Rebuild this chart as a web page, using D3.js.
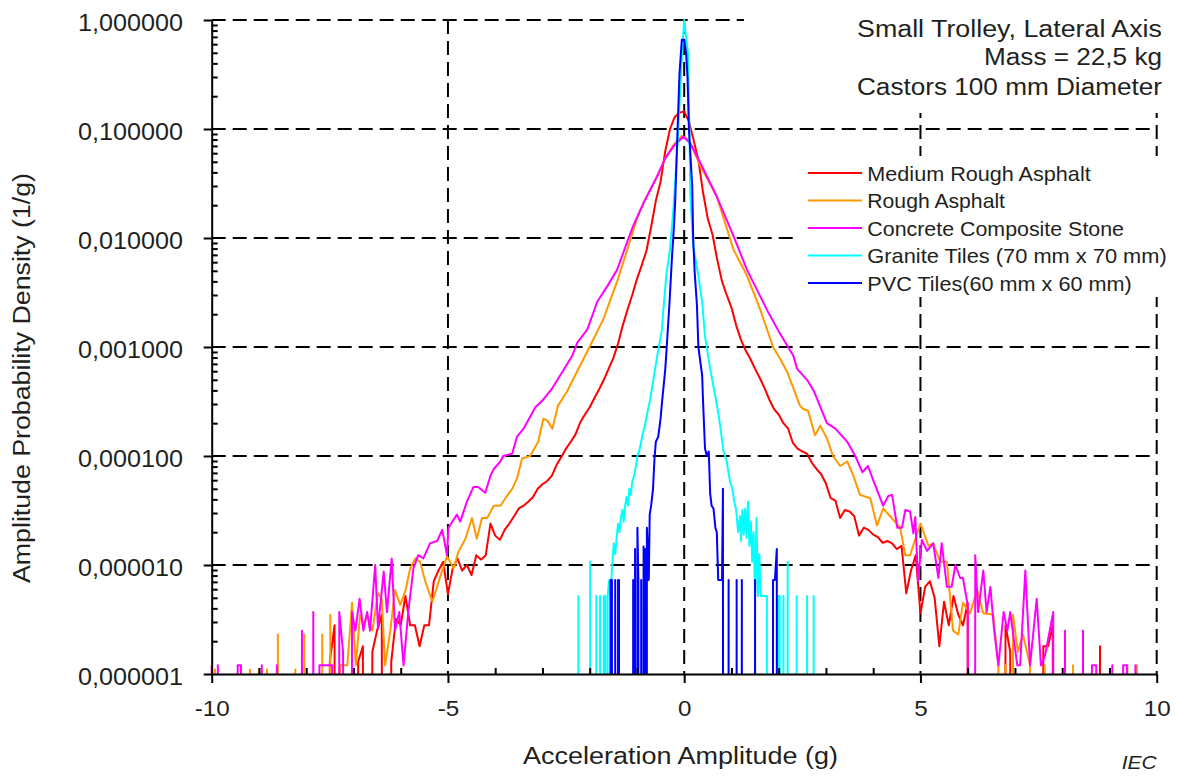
<!DOCTYPE html>
<html><head><meta charset="utf-8">
<script src="https://cdn.jsdelivr.net/npm/d3@7"></script>
<style>
body{margin:0;background:#fff}
svg{display:block}
text{font-family:"Liberation Sans",Arial,sans-serif;fill:#231f20}
</style></head><body>
<svg id="c" width="1178" height="776"></svg>
<script>
// ---------------- DATA ----------------
const xTickValues = [-10, -5, 0, 5, 10];
const yTickValues = [1e-6, 1e-5, 1e-4, 1e-3, 1e-2, 1e-1, 1];
const titleLines = ["Small Trolley, Lateral  Axis", "Mass = 22,5 kg", "Castors  100  mm  Diameter"];
const seriesNames = ["Medium Rough Asphalt", "Rough Asphalt", "Concrete Composite Stone", "Granite Tiles (70 mm x 70 mm)", "PVC Tiles(60 mm x 60 mm)"];
const xTitle = "Acceleration Amplitude  (g)";
const yTitle = "Amplitude Probability Density  (1/g)";

// [acceleration (g), probability density (1/g)]; 0 = empty bin
const mediumRoughAsphalt = [
[-7.6,0],[-7.5,1.3e-6],[-7.4,2.8e-6],[-7.3,0],[-7.0,0],[-6.9,1.3e-6],[-6.8,1.8e-6],[-6.7,0],[-6.6,1.6e-6],[-6.5,2.5e-6],
[-6.4,3.5e-6],[-6.3,0],[-6.2,1.3e-6],[-6.1,3.2e-6],[-6.0,2.8e-6],[-5.9,5.2e-6],[-5.8,2.8e-6],[-5.7,2.8e-6],[-5.6,1.8e-6],
[-5.5,2.8e-6],[-5.4,2.8e-6],[-5.3,7.1e-6],[-5.2,8.9e-6],[-5.1,1.07e-5],[-5.0,5.4e-6],[-4.9,9.3e-6],[-4.8,1.15e-5],
[-4.7,8.9e-6],[-4.6,1.0e-5],[-4.5,8.1e-6],[-4.4,1.23e-5],[-4.3,1.12e-5],[-4.2,1.23e-5],[-4.1,2.4e-5],[-4.0,1.86e-5],
[-3.9,1.7e-5],[-3.8,2.1e-5],[-3.7,2.4e-5],[-3.6,2.8e-5],[-3.5,3.3e-5],[-3.4,3.5e-5],[-3.3,3.8e-5],[-3.2,4.2e-5],
[-3.1,5.0e-5],[-3.0,5.5e-5],[-2.9,5.9e-5],[-2.8,6.6e-5],[-2.7,8.3e-5],[-2.6,9.8e-5],[-2.5,1.17e-4],[-2.4,1.35e-4],
[-2.3,1.58e-4],[-2.2,2.04e-4],[-2.1,2.4e-4],[-2.0,2.8e-4],[-1.9,3.4e-4],[-1.8,4.1e-4],[-1.7,5.0e-4],[-1.6,6.3e-4],
[-1.5,7.9e-4],[-1.4,1.07e-3],[-1.3,1.58e-3],[-1.2,2.2e-3],[-1.1,3.0e-3],[-1.0,4.2e-3],[-0.9,5.6e-3],[-0.8,7.6e-3],
[-0.7,0.0126],[-0.6,0.022],[-0.5,0.033],[-0.4,0.063],[-0.3,0.1],[-0.2,0.129],[-0.1,0.141],[0.0,0.145],[0.1,0.117],
[0.2,0.079],[0.3,0.052],[0.4,0.026],[0.5,0.015],[0.6,0.0107],[0.7,6.3e-3],[0.8,4.0e-3],[0.9,3.0e-3],[1.0,2.3e-3],
[1.1,1.58e-3],[1.2,1.17e-3],[1.3,9.3e-4],[1.4,7.8e-4],[1.5,6.3e-4],[1.6,5.2e-4],[1.7,4.2e-4],[1.8,3.3e-4],[1.9,2.7e-4],
[2.0,2.4e-4],[2.1,2.0e-4],[2.2,1.78e-4],[2.3,1.32e-4],[2.4,1.17e-4],[2.5,1.1e-4],[2.6,1.05e-4],[2.7,8.7e-5],[2.8,7.6e-5],
[2.9,6.8e-5],[3.0,5.6e-5],[3.1,4.1e-5],[3.2,3.9e-5],[3.3,2.7e-5],[3.4,3.2e-5],[3.5,3.1e-5],[3.6,2.8e-5],[3.7,1.86e-5],
[3.8,2.2e-5],[3.9,2.1e-5],[4.0,1.9e-5],[4.1,1.8e-5],[4.2,1.6e-5],[4.3,1.66e-5],[4.4,1.58e-5],[4.5,1.4e-5],[4.6,1.5e-5],
[4.7,5.5e-6],[4.8,8.9e-6],[4.9,1.23e-5],[5.0,3.6e-6],[5.1,6.3e-6],[5.2,7.1e-6],[5.3,5.0e-6],[5.4,1.8e-6],[5.5,4.6e-6],
[5.6,2.8e-6],[5.7,5.2e-6],[5.8,3.5e-6],[5.9,2.8e-6],[6.0,4.5e-6],[6.1,0],[6.7,0],[6.8,2.8e-6],[6.9,1.6e-6],[7.0,0],
[7.5,0],[7.6,1.8e-6],[7.7,1.8e-6],[7.8,2.8e-6],[7.9,0],[8.7,0],[8.8,1.8e-6],[8.9,0]
];
const roughAsphalt = [
[-10.0,0],[-9.93,1.1e-6],[-9.87,0],[-9.25,0],[-9.19,1.1e-6],[-9.13,0],[-9.06,0],[-9.0,1.1e-6],[-8.94,0],[-8.89,0],
[-8.83,1.1e-6],[-8.77,0],[-8.65,0],[-8.6,2.3e-6],[-8.55,0],[-8.28,0],[-8.23,1.1e-6],[-8.18,0],[-8.1,0],[-8.04,2.3e-6],
[-7.98,0],[-7.72,0],[-7.66,2.3e-6],[-7.6,0],[-7.55,0],[-7.49,3.5e-6],[-7.43,0],[-7.33,0],[-7.28,1.2e-6],[-7.13,1.2e-6],
[-7.03,4.5e-6],[-6.95,1.2e-6],[-6.86,3.5e-6],[-6.79,2.8e-6],[-6.71,3.5e-6],[-6.6,2.5e-6],[-6.48,5.5e-6],[-6.4,4.9e-6],
[-6.33,1.2e-6],[-6.22,2.5e-6],[-6.12,5.9e-6],[-6.01,4.3e-6],[-5.9,5.8e-6],[-5.8,9.3e-6],[-5.69,1.15e-5],[-5.59,1.07e-5],
[-5.48,7.1e-6],[-5.33,4.6e-6],[-5.16,7.9e-6],[-5.02,1.2e-5],[-4.88,9.3e-6],[-4.78,1.32e-5],[-4.63,1.74e-5],[-4.49,2.7e-5],
[-4.39,1.74e-5],[-4.28,2.7e-5],[-4.17,2.7e-5],[-4.03,3.5e-5],[-3.89,3.5e-5],[-3.75,4.3e-5],[-3.64,5.0e-5],[-3.54,6.2e-5],
[-3.43,9.5e-5],[-3.26,1.0e-4],[-3.09,1.35e-4],[-2.98,2.2e-4],[-2.89,2.1e-4],[-2.79,1.78e-4],[-2.67,2.9e-4],[-2.48,3.9e-4],
[-2.2,6.8e-4],[-2.03,9.5e-4],[-1.71,1.8e-3],[-1.42,4.0e-3],[-1.2,7.9e-3],[-1.0,0.015],[-0.86,0.021],[-0.57,0.037],
[-0.4,0.054],[-0.23,0.071],[-0.05,0.087],[0.1,0.079],[0.34,0.046],[0.69,0.024],[1.04,7.9e-3],[1.33,4.5e-3],[1.61,2.2e-3],
[1.88,1.0e-3],[2.03,7.8e-4],[2.18,5.9e-4],[2.31,4.2e-4],[2.45,2.9e-4],[2.52,2.7e-4],[2.62,2.6e-4],[2.77,1.55e-4],
[2.88,1.9e-4],[3.02,1.45e-4],[3.15,1.0e-4],[3.3,8.1e-5],[3.45,8.9e-5],[3.58,6.6e-5],[3.72,4.4e-5],[3.94,4.1e-5],
[4.08,2.3e-5],[4.21,3.3e-5],[4.36,2.8e-5],[4.57,2.2e-5],[4.68,1.23e-5],[4.78,1.23e-5],[5.0,2.4e-5],[5.17,1.5e-5],
[5.27,1.58e-5],[5.42,1.07e-5],[5.56,1.07e-5],[5.69,2.5e-6],[5.8,2.3e-6],[5.9,4.5e-6],[6.05,3.6e-6],[6.2,5.9e-6],
[6.33,3.6e-6],[6.54,3.5e-6],[6.65,1.2e-6],[6.71,0],[6.75,0],[6.8,1.2e-6],[6.86,0],[6.92,0],[6.96,3.5e-6],[7.06,1.6e-6],
[7.17,2.3e-6],[7.32,1.2e-6],[7.4,0],[7.58,0],[7.63,1.2e-6],[7.68,0],[8.18,0],[8.23,1.2e-6],[8.28,0],[9.33,0],[9.38,1.2e-6],
[9.43,0],[9.53,0],[9.58,1.2e-6],[9.63,0]
];
const concreteCompositeStone = [
[-10.0,1.2e-6],[-9.93,0],[-9.9,0],[-9.87,1.2e-6],[-9.82,0],[-9.5,0],[-9.45,1.2e-6],[-9.38,1.2e-6],[-9.33,0],[-8.99,0],
[-8.94,1.2e-6],[-8.89,0],[-8.67,0],[-8.62,1.2e-6],[-8.57,0],[-8.14,0],[-8.09,2.5e-6],[-8.04,0],[-7.9,0],[-7.85,3.7e-6],
[-7.79,0],[-7.76,0],[-7.72,1.2e-6],[-7.45,1.2e-6],[-7.39,0],[-7.36,0],[-7.3,3.7e-6],[-7.22,1.6e-6],[-7.16,0],[-7.1,0],
[-7.03,3.7e-6],[-6.96,2.5e-6],[-6.87,4.9e-6],[-6.79,2.5e-6],[-6.71,3.7e-6],[-6.65,2.5e-6],[-6.54,1.0e-5],[-6.48,2.6e-6],
[-6.36,8.7e-6],[-6.29,3.7e-6],[-6.19,1.15e-5],[-6.12,2.5e-6],[-6.03,3.7e-6],[-5.94,1.2e-6],[-5.84,3.7e-6],[-5.73,9.3e-6],
[-5.63,1.23e-5],[-5.52,1.15e-5],[-5.38,1.58e-5],[-5.23,1.66e-5],[-5.12,2.1e-5],[-5.02,1.23e-5],[-4.99,2.2e-5],
[-4.81,2.9e-5],[-4.74,2.5e-5],[-4.6,3.8e-5],[-4.46,5.2e-5],[-4.36,5.2e-5],[-4.21,4.6e-5],[-4.1,6.6e-5],[-4.03,7.6e-5],
[-3.89,8.9e-5],[-3.83,1.0e-4],[-3.64,1.05e-4],[-3.54,1.5e-4],[-3.4,1.78e-4],[-3.15,2.8e-4],[-2.98,3.3e-4],[-2.79,4.2e-4],
[-2.58,5.9e-4],[-2.37,8.3e-4],[-2.26,1.1e-3],[-2.05,1.45e-3],[-1.84,2.6e-3],[-1.63,3.6e-3],[-1.42,5.1e-3],[-1.21,9.1e-3],
[-1.08,0.0129],[-0.86,0.021],[-0.57,0.037],[-0.4,0.054],[-0.23,0.069],[-0.02,0.085],[0.13,0.074],[0.34,0.049],
[0.69,0.024],[1.04,0.0105],[1.33,5.1e-3],[1.75,2.2e-3],[2.03,1.32e-3],[2.31,8.3e-4],[2.39,6.3e-4],[2.6,5.0e-4],
[2.75,3.9e-4],[3.02,2.0e-4],[3.2,1.78e-4],[3.45,1.35e-4],[3.62,1.0e-4],[3.77,7.1e-5],[3.89,8.1e-5],[4.0,6.0e-5],
[4.21,3.5e-5],[4.32,4.3e-5],[4.4,4.4e-5],[4.51,2.2e-5],[4.61,2.2e-5],[4.68,3.2e-5],[4.78,3.1e-5],[4.85,1.95e-5],
[4.89,2.75e-5],[4.95,7.1e-6],[5.03,1.7e-5],[5.14,1.35e-5],[5.27,1.58e-5],[5.38,7.6e-6],[5.45,1.58e-5],[5.56,6.3e-6],
[5.66,6.3e-6],[5.74,1.0e-5],[5.84,7.6e-6],[5.9,7.6e-6],[6.0,4.3e-6],[6.05,0],[6.1,0],[6.16,1.23e-5],[6.22,3.7e-6],
[6.33,8.9e-6],[6.4,3.7e-6],[6.48,6.3e-6],[6.56,2.5e-6],[6.65,1.2e-6],[6.76,3.7e-6],[6.84,2.5e-6],[6.9,3.7e-6],
[7.05,1.2e-6],[7.11,1.2e-6],[7.22,8.9e-6],[7.32,1.2e-6],[7.46,4.9e-6],[7.55,1.2e-6],[7.64,1.5e-6],[7.81,3.7e-6],
[7.86,0],[8.01,0],[8.06,2.5e-6],[8.11,0],[8.39,0],[8.44,2.5e-6],[8.49,0],[8.59,0],[8.63,1.2e-6],[8.72,1.2e-6],[8.76,0],
[9.02,0],[9.06,1.2e-6],[9.1,0],[9.25,0],[9.29,1.2e-6],[9.37,1.2e-6],[9.41,0],[9.51,0],[9.55,1.2e-6],[9.59,0]
];
const graniteTiles = [
[-2.3,0],[-2.24,5.2e-6],[-2.2,0],[-2.03,0],[-1.99,1.07e-5],[-1.95,0],[-1.89,0],[-1.86,5.2e-6],[-1.83,0],[-1.81,0],
[-1.78,5.2e-6],[-1.75,0],[-1.73,0],[-1.7,5.2e-6],[-1.67,5.2e-6],[-1.64,0],[-1.62,5.2e-6],[-1.59,7.2e-6],[-1.56,5.2e-6],
[-1.52,1.07e-5],[-1.49,1.58e-5],[-1.46,1.26e-5],[-1.43,1.74e-5],[-1.4,2.4e-5],[-1.37,2.0e-5],[-1.34,2.7e-5],
[-1.31,3.2e-5],[-1.28,2.5e-5],[-1.25,3.5e-5],[-1.22,4.2e-5],[-1.19,3.5e-5],[-1.16,5.0e-5],[-1.13,4.4e-5],[-1.1,5.8e-5],
[-1.06,6.6e-5],[-1.02,8.1e-5],[-0.99,1.0e-4],[-0.95,1.12e-4],[-0.91,1.35e-4],[-0.87,1.66e-4],[-0.83,1.9e-4],
[-0.78,2.5e-4],[-0.72,3.3e-4],[-0.66,4.8e-4],[-0.57,8.3e-4],[-0.47,1.45e-3],[-0.44,2.2e-3],[-0.38,4.5e-3],[-0.3,7.9e-3],
[-0.23,0.018],[-0.15,0.063],[-0.08,0.25],[-0.04,0.56],[0.0,1.0],[0.04,0.7],[0.08,0.5],[0.11,0.1],[0.13,0.025],
[0.19,8.5e-3],[0.3,4.5e-3],[0.38,2.6e-3],[0.44,1.26e-3],[0.55,6.3e-4],[0.66,3.5e-4],[0.72,2.5e-4],[0.76,1.9e-4],
[0.83,1.12e-4],[0.9,8.9e-5],[0.97,5.8e-5],[1.02,5.0e-5],[1.06,3.8e-5],[1.1,3.2e-5],[1.14,2.0e-5],[1.18,2.8e-5],
[1.2,1.66e-5],[1.23,3.2e-5],[1.26,1.9e-5],[1.29,3.3e-5],[1.32,1.78e-5],[1.35,3.8e-5],[1.38,1.5e-5],[1.41,2.5e-5],
[1.44,1.07e-5],[1.47,2.0e-5],[1.5,5.2e-6],[1.53,2.7e-5],[1.56,5.2e-6],[1.59,1.26e-5],[1.62,5.2e-6],[1.65,5.2e-6],
[1.68,5.2e-6],[1.72,5.2e-6],[1.75,5.2e-6],[1.78,0],[1.96,0],[1.99,5.2e-6],[2.02,5.2e-6],[2.05,0],[2.07,0],[2.1,5.2e-6],
[2.13,0],[2.16,0],[2.19,1.07e-5],[2.22,0],[2.35,0],[2.38,5.2e-6],[2.41,0],[2.57,0],[2.6,5.2e-6],[2.63,0],[2.71,0],
[2.74,5.2e-6],[2.77,0]
];
const pvcTiles = [
[-1.6,0],[-1.56,7.3e-6],[-1.53,7.3e-6],[-1.5,0],[-1.48,0],[-1.46,7.3e-6],[-1.44,0],[-1.42,0],[-1.4,7.3e-6],[-1.38,7.3e-6],
[-1.36,0],[-1.1,0],[-1.08,7.3e-6],[-1.06,0],[-1.05,0],[-1.04,1.4e-5],[-1.02,0],[-1.01,0],[-0.99,2.2e-5],[-0.97,7.3e-6],
[-0.95,0],[-0.93,0],[-0.91,7.3e-6],[-0.89,0],[-0.88,0],[-0.86,1.48e-5],[-0.84,7.3e-6],[-0.82,1.4e-5],[-0.81,0],[-0.8,0],
[-0.79,2.2e-5],[-0.77,1.4e-5],[-0.75,7.3e-6],[-0.73,2.9e-5],[-0.7,3.5e-5],[-0.66,5.0e-5],[-0.63,9.3e-5],[-0.6,1.35e-4],
[-0.55,1.5e-4],[-0.5,2.2e-4],[-0.47,3.1e-4],[-0.44,4.2e-4],[-0.4,6.3e-4],[-0.36,1.17e-3],[-0.31,2.6e-3],[-0.26,6.5e-3],
[-0.22,0.012],[-0.19,0.022],[-0.17,0.04],[-0.15,0.074],[-0.1,0.32],[-0.05,0.66],[0.0,0.66],[0.04,0.5],[0.07,0.3],
[0.1,0.1],[0.14,0.05],[0.17,0.03],[0.19,0.01],[0.22,5.0e-3],[0.27,2.4e-3],[0.3,1.0e-3],[0.38,5.5e-4],[0.4,3.1e-4],
[0.44,1.17e-4],[0.48,1.0e-4],[0.52,1.1e-4],[0.55,4.5e-5],[0.58,3.5e-5],[0.62,3.3e-5],[0.66,2.2e-5],[0.69,2.0e-5],
[0.72,7.3e-6],[0.76,7.3e-6],[0.8,7.3e-6],[0.82,5.0e-5],[0.85,0],[0.91,0],[0.94,7.3e-6],[0.97,0],[1.09,0],[1.11,7.3e-6],
[1.14,0],[1.2,0],[1.22,7.3e-6],[1.25,0],[1.48,0],[1.5,7.3e-6],[1.53,0],[1.85,0],[1.88,7.3e-6],[1.92,7.3e-6],[1.96,1.4e-5],
[1.99,0]
];
const seriesData = [mediumRoughAsphalt, roughAsphalt, concreteCompositeStone, graniteTiles, pvcTiles];
const seriesColors = ["#ff0000", "#ff9900", "#ff00ff", "#00ffff", "#0000ff"];

// ---------------- LAYOUT ----------------
const P = {left: 211.7, right: 1156.7, top: 20, bottom: 674};
const x = d3.scaleLinear().domain([-10, 10]).range([P.left, P.right]);
const y = d3.scaleLog().domain([1e-6, 1]).range([P.bottom, P.top]);
const yv = v => v > 0 ? y(v) : P.bottom + 4000;
const svg = d3.select('#c');

function fit(sel, w) { sel.attr('textLength', w).attr('lengthAdjust', 'spacingAndGlyphs'); }

svg.append('defs').append('clipPath').attr('id', 'clip')
  .append('rect').attr('x', P.left - 5).attr('y', 0)
  .attr('width', P.right - P.left + 10).attr('height', P.bottom);

// gridlines
const grid = svg.append('g').attr('stroke', '#000').attr('stroke-width', 2)
  .attr('stroke-dasharray', '14,7').attr('fill', 'none');
grid.selectAll('line.h').data(yTickValues.filter(v => v > 1e-6)).join('line')
  .attr('x1', P.left).attr('x2', P.right).attr('y1', d => y(d)).attr('y2', d => y(d));
grid.selectAll('line.v').data(xTickValues.filter(v => v > -10)).join('line')
  .attr('y1', P.top).attr('y2', P.bottom).attr('x1', d => x(d)).attr('x2', d => x(d));

// opaque text boxes (title block and legend)
svg.append('rect').attr('x', 744).attr('y', 0).attr('width', 434).attr('height', 113).attr('fill', '#fff');
svg.append('rect').attr('x', 797).attr('y', 156).attr('width', 376).attr('height', 141).attr('fill', '#fff');

// series
const line = d3.line().x(d => x(d[0])).y(d => yv(d[1]));
const plot = svg.append('g').attr('clip-path', 'url(#clip)');
seriesData.forEach((s, i) => {
  plot.append('path').datum(s).attr('d', line).attr('fill', 'none')
    .attr('stroke', seriesColors[i]).attr('stroke-width', 2).attr('stroke-linejoin', 'round');
});

// axes
const fmtY = d => d.toFixed(6).replace('.', ',');
const yAxis = svg.append('g').attr('transform', `translate(${P.left},0)`)
  .call(d3.axisLeft(y).tickValues(yTickValues).tickSizeInner(8).tickSizeOuter(0).tickPadding(20.7).tickFormat(fmtY));
yAxis.selectAll('text').attr('font-size', 23).attr('dy', 10.5).style('font-family', '"Liberation Sans",Arial,sans-serif').attr('fill', '#231f20')
  .each(function () { fit(d3.select(this), 105); });
const minorY = [];
for (let e = -6; e < 0; e++) for (let m = 2; m <= 9; m++) minorY.push(m * Math.pow(10, e));
svg.append('g').attr('transform', `translate(${P.left},0)`)
  .call(d3.axisRight(y).tickValues(minorY).tickSizeInner(6).tickSizeOuter(0).tickFormat(''))
  .call(g => g.select('.domain').remove());

const xAxis = svg.append('g').attr('transform', `translate(0,${P.bottom})`)
  .call(d3.axisBottom(x).tickValues(xTickValues).tickSizeInner(9).tickSizeOuter(0).tickFormat(d => String(d)));
xAxis.selectAll('text').attr('font-size', 22).attr('y', 42).attr('dy', 0)
  .style('font-family', '"Liberation Sans",Arial,sans-serif').attr('fill', '#231f20')
  .each(function () { fit(d3.select(this), this.getComputedTextLength() * 1.1); });
const minorX = d3.range(-9, 10).filter(v => v % 5 !== 0);
svg.append('g').attr('transform', `translate(0,${P.bottom})`)
  .call(d3.axisTop(x).tickValues(minorX).tickSizeInner(6).tickSizeOuter(0).tickFormat(''))
  .call(g => g.select('.domain').remove());
svg.selectAll('.domain, .tick line').attr('stroke', '#000').attr('stroke-width', 2);

// titles
const titleBase = [37, 65, 95];
const titleW = [305, 178, 305];
titleLines.forEach((t, i) => {
  svg.append('text').attr('x', 1162).attr('y', titleBase[i]).attr('text-anchor', 'end')
    .attr('font-size', 23).text(t).call(fit, titleW[i]);
});
svg.append('text').attr('x', 680.5).attr('y', 764).attr('text-anchor', 'middle')
  .attr('font-size', 23).text(xTitle).call(fit, 315);
svg.append('text').attr('transform', 'translate(30,378) rotate(-90)').attr('text-anchor', 'middle')
  .attr('font-size', 23).text(yTitle).call(fit, 410);
svg.append('text').attr('x', 1121.7).attr('y', 769).attr('font-size', 19)
  .attr('font-style', 'italic').text('IEC').call(fit, 35);

// legend
const legW = [223.4, 137.7, 256.7, 299.4, 264.4];
const leg = svg.append('g');
seriesNames.forEach((n, i) => {
  const ly = 173 + i * 27.5;
  leg.append('line').attr('x1', 808).attr('x2', 862).attr('y1', ly).attr('y2', ly)
    .attr('stroke', seriesColors[i]).attr('stroke-width', 2);
  leg.append('text').attr('x', 867.3).attr('y', ly + 7.5).attr('font-size', 21).text(n).call(fit, legW[i]);
});
</script>
</body></html>
